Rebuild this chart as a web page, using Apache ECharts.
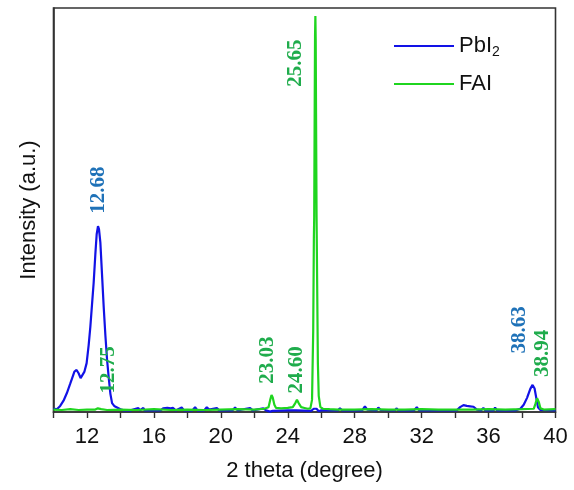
<!DOCTYPE html>
<html>
<head>
<meta charset="utf-8">
<script src="https://cdn.jsdelivr.net/npm/echarts@6/dist/echarts.min.js"></script>
<style>
  html, body { margin: 0; padding: 0; background: #fff; }
  #chart { width: 574px; height: 490px; }
</style>
</head>
<body>
<div id="chart"></div>
<script>
// XRD patterns: [2θ (degree), intensity (a.u.)]
const pbi2Pattern = [
  [10.00, 8], [10.10, 10], [10.20, 7], [10.30, 9], [10.40, 15], [10.60, 28], [10.80, 47],
  [11.00, 70], [11.10, 82], [11.25, 100], [11.38, 104], [11.50, 96], [11.62, 84], [11.70, 83],
  [11.85, 100], [11.98, 121], [12.10, 165], [12.20, 210], [12.30, 265], [12.40, 320],
  [12.50, 390], [12.58, 440], [12.66, 460], [12.72, 452], [12.80, 420], [12.90, 340],
  [13.00, 260], [13.10, 190], [13.20, 130], [13.30, 85], [13.40, 45], [13.50, 22],
  [13.65, 14], [13.80, 11], [14.00, 7], [14.20, 4], [14.60, 4], [15.07, 10], [15.15, 4],
  [15.37, 10], [15.45, 4], [16.40, 4], [16.55, 9], [16.80, 10], [17.00, 9], [17.15, 10],
  [17.30, 4], [17.66, 11], [17.80, 4], [18.30, 4], [18.46, 12], [18.60, 4], [19.00, 4],
  [19.16, 12], [19.30, 6], [19.76, 10], [19.90, 4], [20.70, 4], [20.85, 11], [21.00, 4],
  [21.75, 10], [21.90, 4], [22.54, 9], [22.70, 4], [22.94, 1], [23.10, 3], [24.00, 4],
  [24.50, 4], [25.40, 3], [25.55, 8], [25.63, 11], [25.72, 8], [25.85, 2], [26.00, 4],
  [27.00, 4], [27.12, 9], [27.25, 4], [28.45, 4], [28.61, 14], [28.75, 6], [29.30, 4],
  [29.41, 11], [29.55, 5], [30.40, 4], [30.51, 9], [30.60, 4], [31.55, 4], [31.71, 12],
  [31.85, 4], [34.10, 4], [34.30, 12], [34.50, 17], [34.70, 15], [34.90, 14], [35.10, 13],
  [35.30, 6], [35.55, 4], [35.69, 10], [35.80, 4], [36.30, 4], [36.39, 11], [36.50, 4],
  [37.60, 4], [37.90, 8], [38.10, 18], [38.30, 35], [38.50, 58], [38.63, 67], [38.75, 58],
  [38.85, 35], [38.95, 12], [39.10, 5], [40.00, 4]
];

const faiPattern = [
  [10.0, 6], [10.5, 5], [11.0, 7], [11.5, 5], [12.0, 6], [12.5, 6], [12.65, 9], [12.75, 13],
  [12.85, 7], [13.2, 5], [14.0, 6], [15.0, 5], [16.0, 7], [17.0, 5], [18.0, 6], [19.0, 5],
  [20.0, 6], [21.0, 7], [22.0, 6], [22.6, 8], [22.85, 12], [22.95, 30], [23.03, 42],
  [23.1, 36], [23.2, 18], [23.3, 10], [23.6, 9], [24.0, 10], [24.3, 12], [24.45, 22],
  [24.55, 30], [24.65, 22], [24.8, 12], [25.0, 10], [25.2, 8], [25.35, 9], [25.45, 30],
  [25.52, 200], [25.56, 430], [25.58, 483], [25.61, 760], [25.63, 930], [25.65, 980],
  [25.67, 920], [25.69, 740], [25.72, 490], [25.76, 300], [25.8, 120], [25.85, 40],
  [25.95, 12], [26.1, 8], [26.5, 7], [27.0, 6], [28.0, 6], [29.0, 7], [30.0, 6], [31.0, 6],
  [32.0, 7], [33.0, 6], [34.0, 6], [35.0, 6], [36.0, 7], [37.0, 6], [38.0, 7], [38.7, 8],
  [38.8, 20], [38.9, 34], [38.94, 36], [39.0, 25], [39.1, 9], [39.3, 6], [40.0, 7]
];

// Indexed peaks: [2θ, peak intensity, label text]
const pbi2Peaks = [[12.68, 460, '12.68'], [38.63, 67, '38.63']];
const faiPeaks = [[12.75, 10, '12.75'], [23.03, 42, '23.03'], [24.60, 30, '24.60'],
                  [25.65, 980, '25.65'], [38.94, 36, '38.94']];

const seriesNames = ['PbI2', 'FAI'];
const xTicks = [12, 16, 20, 24, 28, 32, 36, 40];

// Screen shift (px, right / down) of each peak label's centre from its peak
const pbi2LabelShift = [[0, -36], [-13, -55]];
const faiLabelShift = [[9, -38], [-3.5, -35], [-1, -30], [-20, 47], [5, -44]];

const BLUE = '#1212e6', GREEN = '#1fd51f';
const BLUE_TXT = '#1f72b8', GREEN_TXT = '#1fac4c';

// The labels are turned 90°, so their offset lives in the turned frame:
// a screen shift (sx, sy) becomes the local offset (-sy, sx).
function peakMarks(peaks, shifts, color) {
  return {
    symbol: 'circle',
    symbolSize: 0,
    silent: true,
    label: {
      show: true,
      position: 'inside',
      rotate: 90,
      color: color,
      fontFamily: '"Liberation Serif", "Times New Roman", serif',
      fontWeight: 'bold',
      fontSize: 21,
      formatter: p => p.name
    },
    data: peaks.map((p, i) => ({
      name: p[2],
      coord: [p[0], p[1]],
      label: { offset: [-shifts[i][1], shifts[i][0]] }
    }))
  };
}

const chart = echarts.init(document.getElementById('chart'), null, { renderer: 'canvas' });
const FONT = '"Liberation Sans", Arial, sans-serif';

chart.setOption({
  animation: false,
  backgroundColor: '#fff',
  grid: {
    left: 53.5, right: 18.5, top: 8, bottom: 78,
    show: true, borderColor: '#333', borderWidth: 1.6, backgroundColor: 'transparent'
  },
  legend: {
    orient: 'vertical',
    left: 389, top: 28,
    icon: 'rect',
    itemWidth: 60, itemHeight: 2,
    itemGap: 12,
    data: seriesNames,
    formatter: n => n === 'PbI2' ? '{a|PbI}{s|2}' : '{a|' + n + '}',
    textStyle: {
      fontFamily: FONT, color: '#111', fontSize: 22, lineHeight: 26,
      rich: {
        a: { fontFamily: FONT, fontSize: 22, color: '#111' },
        s: { fontFamily: FONT, fontSize: 14, color: '#111', padding: [12, 0, 0, 0] }
      }
    }
  },
  xAxis: {
    type: 'value',
    min: 10, max: 40, interval: 2,
    name: '2 theta (degree)',
    nameLocation: 'middle',
    nameGap: 48,
    nameTextStyle: { fontFamily: FONT, fontSize: 22, color: '#111' },
    axisLine: { show: true, lineStyle: { color: '#333', width: 1.6 } },
    axisTick: { show: true, inside: false, length: 6, lineStyle: { color: '#333', width: 1.4 } },
    axisLabel: {
      margin: 14,
      fontFamily: FONT, fontSize: 22, color: '#111',
      formatter: v => (xTicks.indexOf(v) >= 0 ? String(v) : '')
    },
    splitLine: { show: false }
  },
  yAxis: {
    type: 'value',
    min: 0, max: 1000,
    name: 'Intensity (a.u.)',
    nameLocation: 'middle',
    nameGap: 14,
    nameTextStyle: { fontFamily: FONT, fontSize: 22, color: '#111' },
    axisLine: { show: true, lineStyle: { color: '#333', width: 1.6 } },
    axisTick: { show: false },
    axisLabel: { show: false },
    splitLine: { show: false }
  },
  series: [
    {
      name: 'PbI2', type: 'line', data: pbi2Pattern,
      showSymbol: false, symbol: 'none', z: 2,
      lineStyle: { color: BLUE, width: 2.2 }, itemStyle: { color: BLUE },
      markPoint: peakMarks(pbi2Peaks, pbi2LabelShift, BLUE_TXT)
    },
    {
      name: 'FAI', type: 'line', data: faiPattern,
      showSymbol: false, symbol: 'none', z: 3,
      lineStyle: { color: GREEN, width: 2.2 }, itemStyle: { color: GREEN },
      markPoint: peakMarks(faiPeaks, faiLabelShift, GREEN_TXT)
    }
  ]
});
</script>
</body>
</html>
